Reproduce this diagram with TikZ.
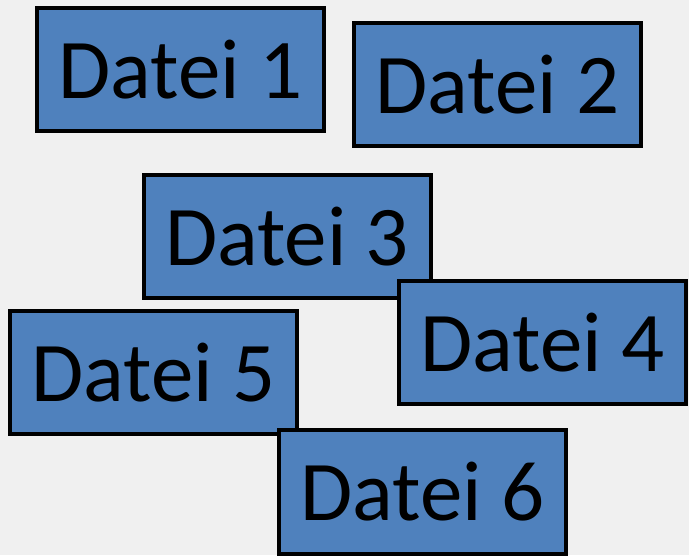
\documentclass[tikz,border=0pt]{standalone}
\usepackage{fontspec}
\setmainfont{Carlito}
\usepackage{tikz}
\usetikzlibrary{positioning}
\definecolor{bgc}{RGB}{240,240,240}
\definecolor{filec}{RGB}{79,129,189}

\begin{document}
\begin{tikzpicture}[x=1pt,y=1pt,
  datei/.style={draw=black,fill=filec,line width=4pt,minimum width=287pt,minimum height=123pt,inner sep=0pt,font=\fontsize{85}{92}\selectfont}]
  \fill[bgc] (0,0) rectangle (689,555); \useasboundingbox (0,0) rectangle (689,555);
  \node[datei] (d1) at (180.5,485.5) {Datei 1};
  \node[datei] (d2) at (497.5,470) {Datei 2};
  \node[datei] (d3) at (287,318.5) {Datei 3};
  \node[datei] (d4) at (542.5,212.5) {Datei 4};
  \node[datei] (d5) at (153.5,182.5) {Datei 5};
  \node[datei] (d6) at (422.5,63) {Datei 6};
\end{tikzpicture}
\end{document}
